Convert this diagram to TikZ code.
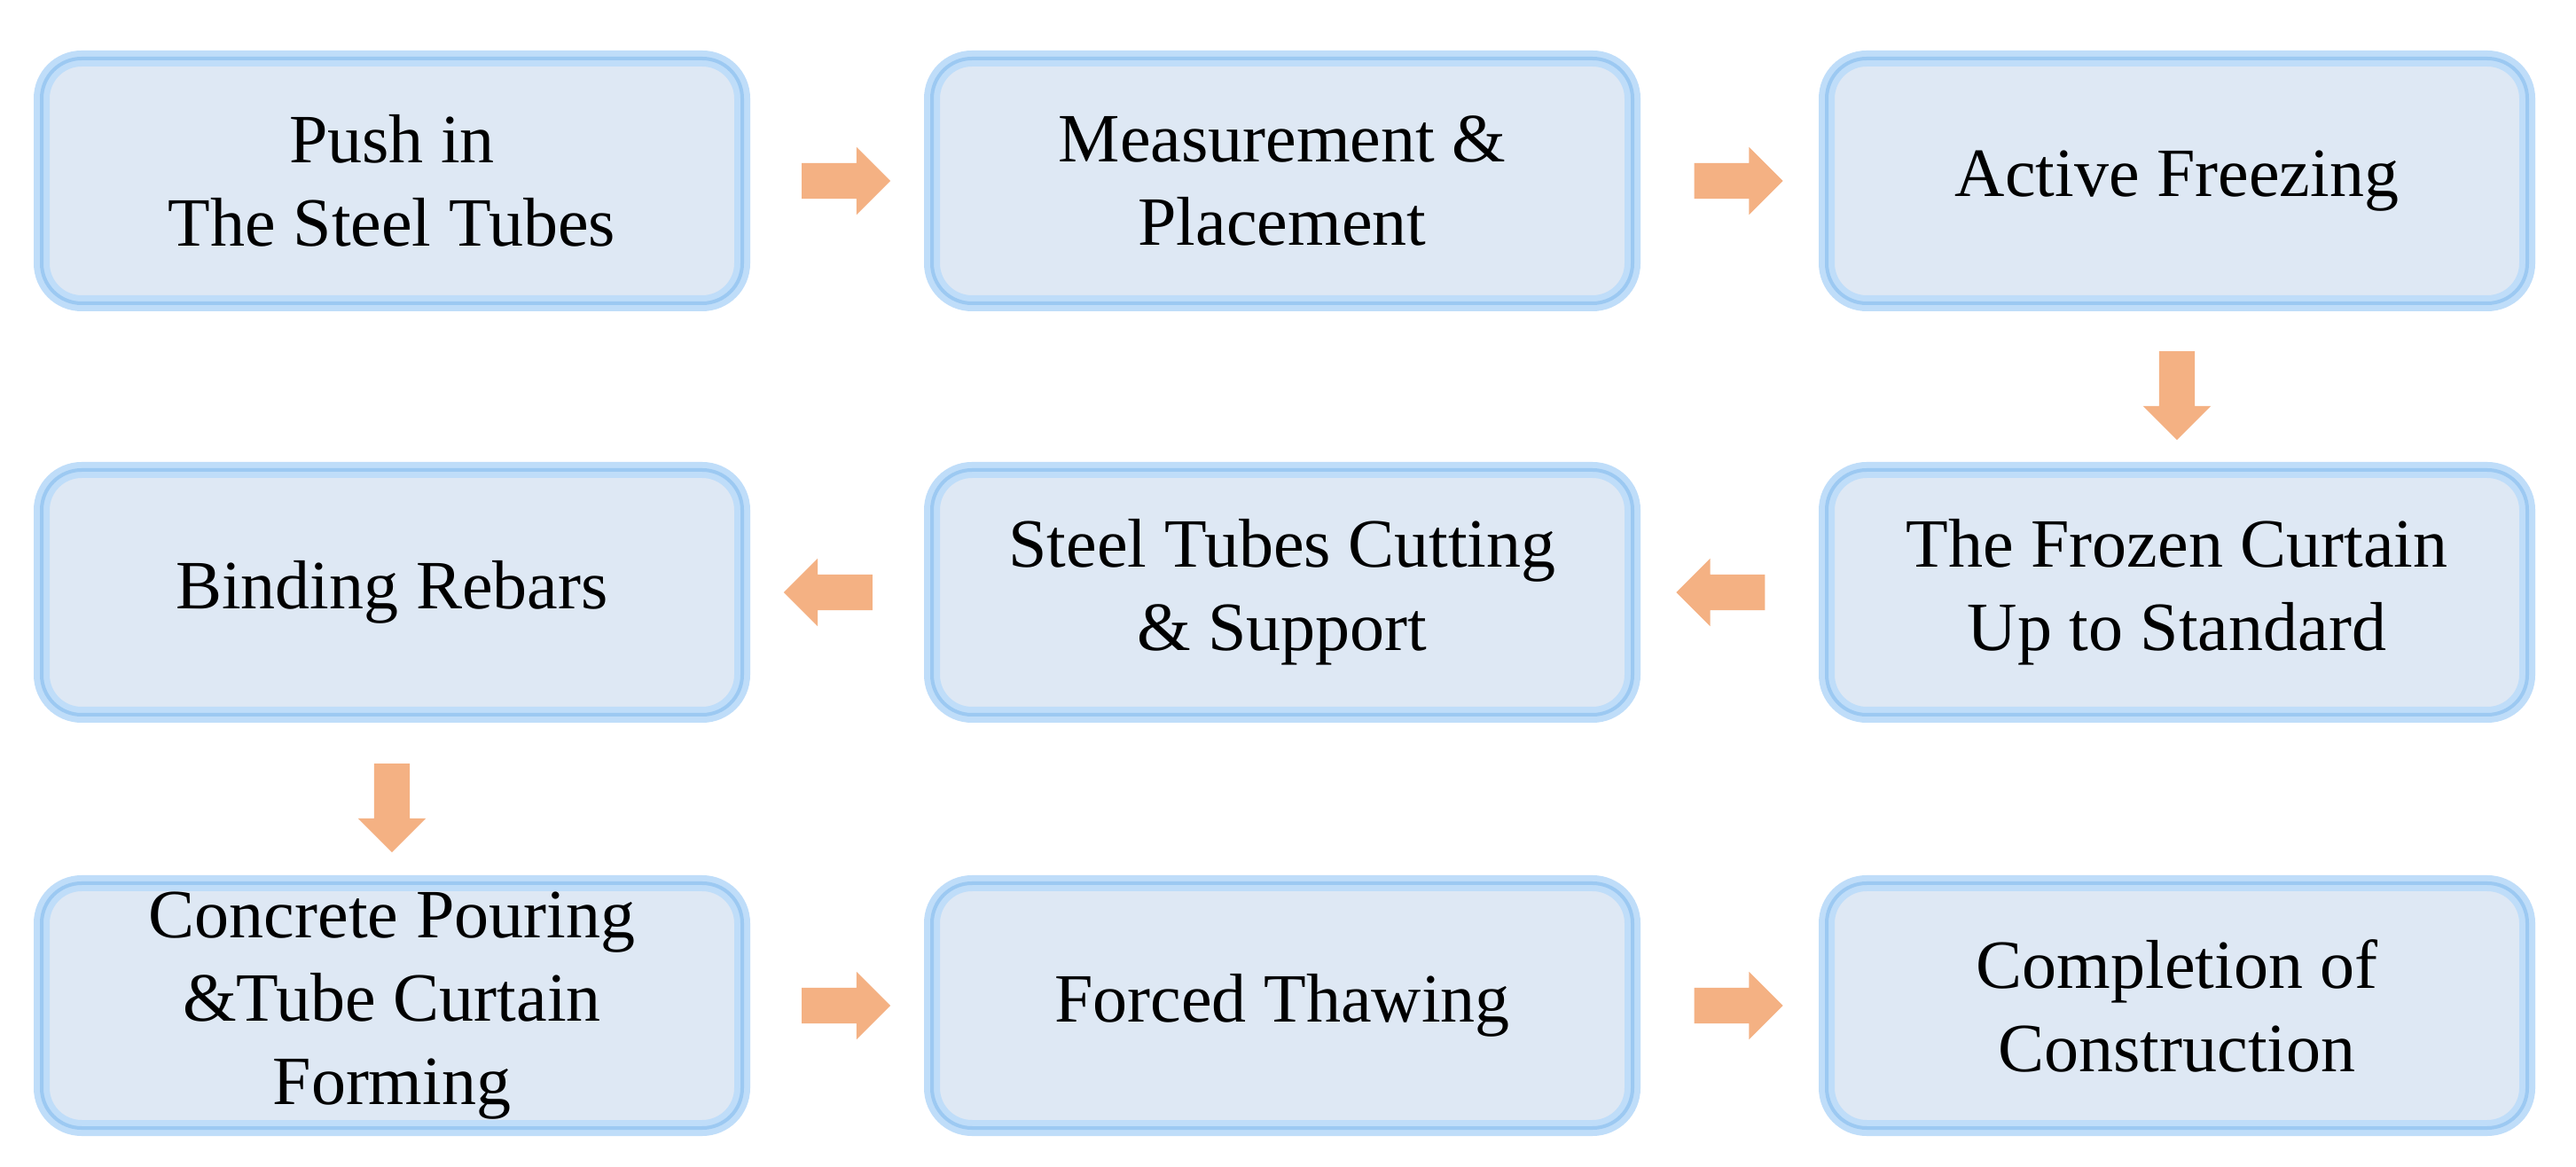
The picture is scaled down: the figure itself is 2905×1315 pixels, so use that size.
\documentclass[tikz,border=0pt]{standalone}
\usepackage{fontspec}
\setmainfont{Liberation Serif}
\usetikzlibrary{shapes.arrows,positioning,calc}
\definecolor{boxfill}{HTML}{DEE8F4}
\definecolor{glow}{HTML}{BFDDF9}
\definecolor{glowin}{HTML}{9CC9F2}
\definecolor{arr}{HTML}{F4B183}
\begin{document}
\begin{tikzpicture}[x=1pt,y=1pt,
  box/.style={draw=glow,line width=18pt,fill=boxfill,rounded corners=45pt,
    minimum width=790pt,minimum height=276pt,align=center,
    font=\fontsize{78}{94}\selectfont,
    postaction={draw=glowin,line width=4pt,rounded corners=45pt}},
  ar/.style={single arrow,fill=arr,draw=none,minimum height=100pt,
    single arrow head extend=18pt,inner xsep=0pt,inner ysep=20pt}]
\useasboundingbox (0,0) rectangle (2905,1315);
\fill[white] (0,0) rectangle (2905,1315);
\node[box] (a) at (442,1111) {Push in\\The Steel Tubes};
\node[box] (b) at (1446,1111) {Measurement \&\\Placement};
\node[box] (c) at (2455,1111) {Active Freezing};
\node[box] (d) at (2455,647) {The Frozen Curtain\\Up to Standard};
\node[box] (e) at (1446,647) {Steel Tubes Cutting\\\& Support};
\node[box] (f) at (442,647) {Binding Rebars};
\node[box] (g) at (442,181) {Concrete Pouring\\\&Tube Curtain\\Forming};
\node[box] (h) at (1446,181) {Forced Thawing};
\node[box] (i) at (2455,181) {Completion of\\Construction};
\node[ar] (ab) at ($(a.east)!0.5!(b.west)$) {};
\node[ar] (bc) at ($(b.east)!0.5!(c.west)$) {};
\node[ar,rotate=-90] (cd) at ($(c.south)!0.5!(d.north)$) {};
\node[ar,rotate=180] (de) at ($(d.west)!0.5!(e.east)$) {};
\node[ar,rotate=180] (ef) at ($(e.west)!0.5!(f.east)$) {};
\node[ar,rotate=-90] (fg) at ($(f.south)!0.5!(g.north)$) {};
\node[ar] (gh) at ($(g.east)!0.5!(h.west)$) {};
\node[ar] (hi) at ($(h.east)!0.5!(i.west)$) {};
\end{tikzpicture}
\end{document}
